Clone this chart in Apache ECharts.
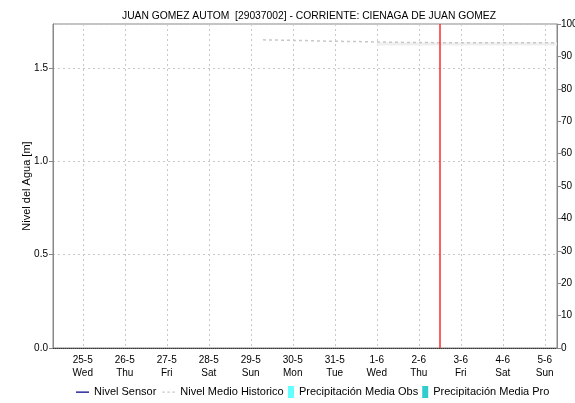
<!DOCTYPE html>
<html>
<head>
<meta charset="utf-8">
<script src="https://cdn.jsdelivr.net/npm/echarts@6/dist/echarts.min.js"></script>
<style>html,body{margin:0;padding:0;background:#fff}#c{width:575px;height:403px}</style>
</head>
<body>
<div id="c"></div>
<script>
// ---- data ----
var titleText = 'JUAN GOMEZ AUTOM  [29037002] - CORRIENTE: CIENAGA DE JUAN GOMEZ';
var xStart = [2022, 4, 24, 7];   // 24-5 07:00
var xEnd = [2022, 5, 5, 7];      // 5-6 07:00
var nowMark = [2022, 5, 2, 12];  // red vertical line
var weekdays = ['Sun', 'Mon', 'Tue', 'Wed', 'Thu', 'Fri', 'Sat'];

var sensorTimes = [];
var sensorValues = [];

var histTimes = [[2022,4,29,7],[2022,4,29,20],[2022,4,30,8],[2022,4,30,20],[2022,4,31,12],[2022,5,1,6],[2022,5,1,18],[2022,5,2,12],[2022,5,3,12],[2022,5,4,12],[2022,5,5,7]];
var histValues = [1.650, 1.648, 1.646, 1.643, 1.641, 1.638, 1.636, 1.635, 1.635, 1.635, 1.635];

var histLightTimes = [[2022,5,1,0],[2022,5,2,12],[2022,5,3,12],[2022,5,4,12],[2022,5,5,7]];
var histLightValues = [1.628, 1.628, 1.628, 1.628, 1.628];

var precipObsTimes = [];
var precipObs = [];
var precipProTimes = [];
var precipPro = [];

var leftTicks = [0, 0.5, 1.0, 1.5];
var rightTicks = [0, 10, 20, 30, 40, 50, 60, 70, 80, 90, 100];

// ---- build ----
function t(a) { return new Date(a[0], a[1], a[2], a[3] || 0).getTime(); }
function pairs(ts, vs) { return ts.map(function (x, i) { return [t(x), vs[i]]; }); }

var FONT = 'Liberation Sans, Arial, sans-serif';
var SPECK = 'M0,0h0.01v0.01h-0.01zM13,12h-0.01v-0.01h0.01z';
var ICON_SOLID = 'path://' + SPECK + 'M0,5.5h13v1.2h-13z';
var ICON_DASH = 'path://' + SPECK + 'M0,5.5h2.5v1.2h-2.5zM5,5.5h2.5v1.2h-2.5zM10,5.5h2.5v1.2h-2.5z';
var ICON_RECT = 'path://M0,0h6v12h-6z';

var chart = echarts.init(document.getElementById('c'));
chart.setOption({
  animation: false,
  backgroundColor: '#fff',
  textStyle: { fontFamily: FONT },
  title: {
    text: titleText,
    left: 304, top: 6, textAlign: 'center',
    textStyle: { fontSize: 10.3, fontWeight: 'normal', color: '#000', fontFamily: FONT }
  },
  legend: [
    {
      bottom: 5, left: 76, padding: 0, itemGap: 6, itemWidth: 13, itemHeight: 12,
      textStyle: { fontSize: 11, color: '#000', fontFamily: FONT },
      data: [
        { name: 'Nivel Sensor', icon: ICON_SOLID, itemStyle: { color: '#00008b' } },
        { name: 'Nivel Medio Historico', icon: ICON_DASH, itemStyle: { color: '#c8c8c8' } }
      ]
    },
    {
      bottom: 5, left: 288, padding: 0, itemGap: 4, itemWidth: 6, itemHeight: 12,
      textStyle: { fontSize: 11, color: '#000', fontFamily: FONT },
      data: [
        { name: 'Precipitación Media Obs', icon: ICON_RECT, itemStyle: { color: '#66ffff' } },
        { name: 'Precipitación Media Pro', icon: ICON_RECT, itemStyle: { color: '#33cccc' } }
      ]
    }
  ],
  grid: { left: 53, right: 18, top: 24, bottom: 55, show: true, borderColor: '#888', borderWidth: 1, containLabel: false, outerBoundsMode: 'none' },
  xAxis: {
    type: 'time',
    min: t(xStart), max: t(xEnd),
    minInterval: 86400000, maxInterval: 86400000,
    splitNumber: 12,
    axisLine: { show: true, lineStyle: { color: '#333', type: 'dotted', width: 1 } },
    axisTick: { show: false },
    splitLine: { show: true, lineStyle: { color: '#c8c8c8', type: [2, 3], width: 1 } },
    axisLabel: {
      color: '#000', fontSize: 10, fontFamily: FONT, lineHeight: 13, margin: 6,
      formatter: function (v) {
        var d = new Date(v);
        return d.getDate() + '-' + (d.getMonth() + 1) + '\n' + weekdays[d.getDay()];
      }
    }
  },
  yAxis: [
    {
      type: 'value', min: 0, max: 1.735, interval: 0.5,
      name: 'Nivel del Agua [m]', nameLocation: 'middle', nameGap: 21, nameMoveOverlap: false,
      nameTextStyle: { fontSize: 11, color: '#000', fontFamily: FONT },
      axisLine: { show: true, lineStyle: { color: '#888' } },
      axisTick: { show: true, length: 4, lineStyle: { color: '#888' } },
      axisLabel: {
        color: '#000', fontSize: 10, fontFamily: FONT, margin: 5, showMaxLabel: false,
        formatter: function (v) { return leftTicks.indexOf(v) >= 0 ? v.toFixed(1) : ''; }
      },
      splitLine: { show: true, lineStyle: { color: '#c8c8c8', type: [2, 3] } }
    },
    {
      type: 'value', min: 0, max: 100, interval: 10, position: 'right',
      axisLine: { show: true, lineStyle: { color: '#888' } },
      axisTick: { show: true, length: 4, lineStyle: { color: '#888' } },
      axisLabel: {
        color: '#000', fontSize: 10, fontFamily: FONT, margin: 4,
        formatter: function (v) { return rightTicks.indexOf(v) >= 0 ? String(v) : ''; }
      },
      splitLine: { show: false }
    }
  ],
  series: [
    {
      name: 'Nivel Sensor', type: 'line', yAxisIndex: 0, showSymbol: false, symbol: 'none',
      lineStyle: { color: '#00008b', width: 1.5 }, itemStyle: { color: '#00008b' },
      data: pairs(sensorTimes, sensorValues),
      markLine: {
        silent: true, symbol: 'none', label: { show: false },
        lineStyle: { color: '#ff2a2a', type: 'solid', width: 1.5 },
        data: [{ xAxis: t(nowMark) }]
      }
    },
    {
      name: 'Nivel Medio Historico', type: 'line', yAxisIndex: 0, showSymbol: false, symbol: 'none', z: 1,
      lineStyle: { color: '#efefef', width: 3, type: 'solid' }, itemStyle: { color: '#c8c8c8' },
      data: pairs(histLightTimes, histLightValues)
    },
    {
      name: 'Nivel Medio Historico', type: 'line', yAxisIndex: 0, showSymbol: false, symbol: 'none', z: 2,
      lineStyle: { color: '#c8c8c8', width: 1.5, type: [3, 3] }, itemStyle: { color: '#c8c8c8' },
      data: pairs(histTimes, histValues)
    },
    {
      name: 'Precipitación Media Obs', type: 'line', yAxisIndex: 1, showSymbol: false, symbol: 'none',
      itemStyle: { color: '#66ffff' }, lineStyle: { color: '#66ffff' }, data: pairs(precipObsTimes, precipObs)
    },
    {
      name: 'Precipitación Media Pro', type: 'line', yAxisIndex: 1, showSymbol: false, symbol: 'none',
      itemStyle: { color: '#33cccc' }, lineStyle: { color: '#33cccc' }, data: pairs(precipProTimes, precipPro)
    }
  ]
});
</script>
</body>
</html>
